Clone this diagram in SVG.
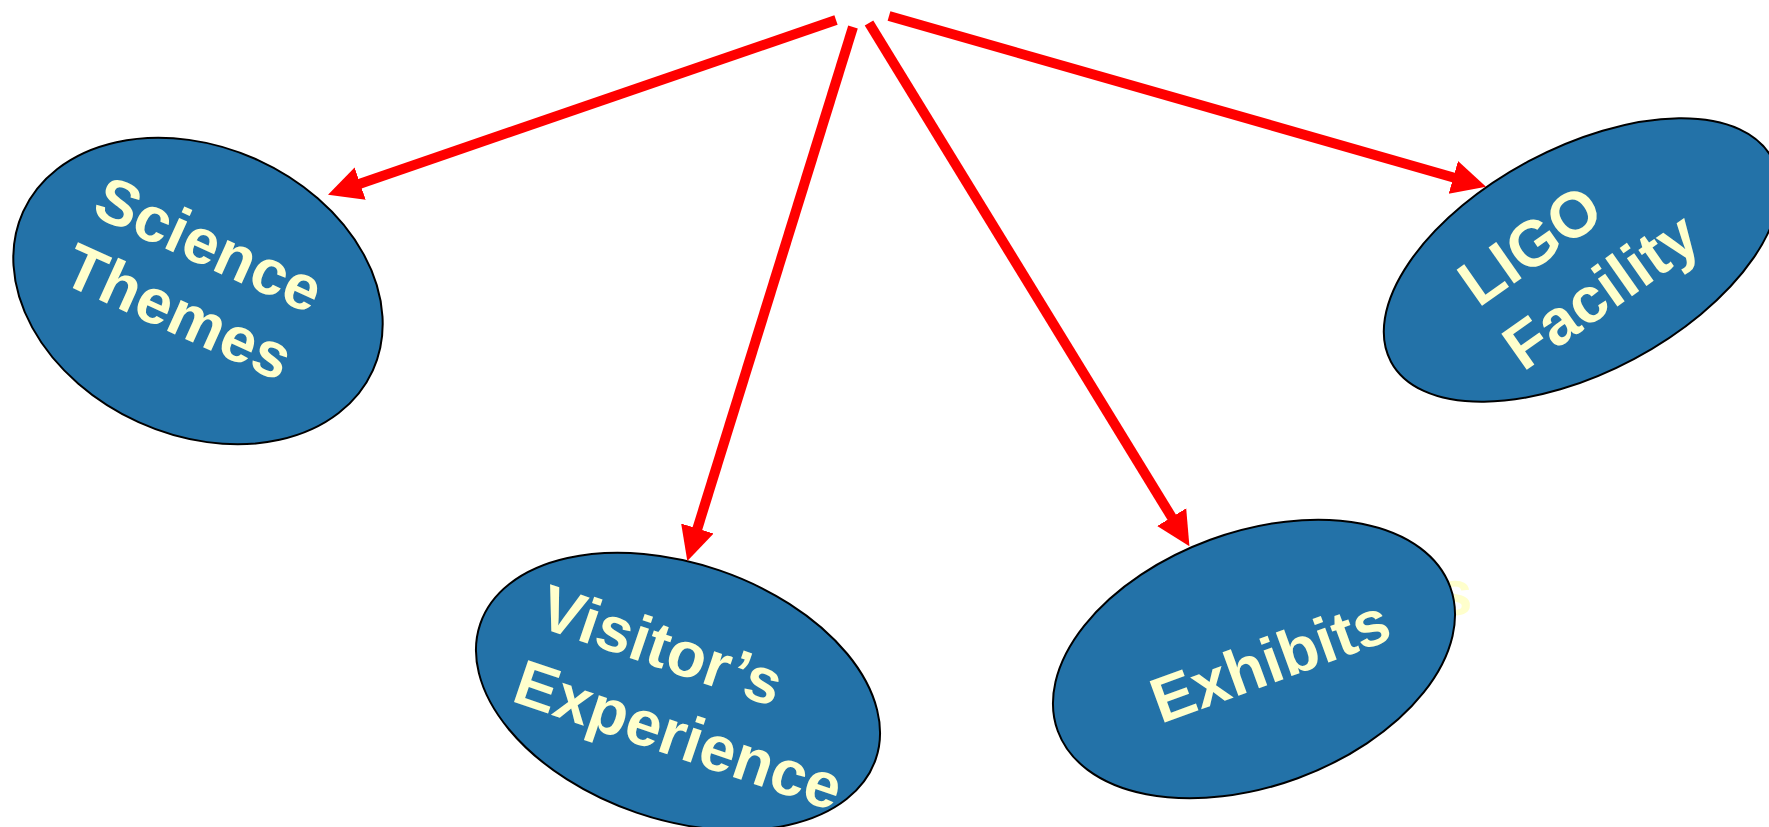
<svg xmlns="http://www.w3.org/2000/svg" width="1769" height="827" viewBox="0 0 1769 827">
<defs>
<style>
.node{fill:#2372A8;stroke:#000;stroke-width:2}
.lbl{font-family:"Liberation Sans",Arial,sans-serif;font-weight:bold;font-size:640px;fill:#FFFFCC;text-rendering:geometricPrecision}
.conn{stroke:#FF0000;stroke-width:10;fill:none;stroke-linecap:butt}
</style>
<marker id="ah" markerUnits="userSpaceOnUse" markerWidth="36" markerHeight="36" refX="1" refY="18" orient="auto" viewBox="0 0 36 36">
<path d="M0,1 L34,18 L0,35 z" fill="#FF0000"/>
</marker>
</defs>
<rect width="1769" height="827" fill="#FFFFFF"/>

<g id="node-science" transform="translate(198,291) rotate(24.4)">
<ellipse class="node" cx="0" cy="0" rx="192" ry="144"/>
<g transform="scale(0.1)">
<text class="lbl" x="-1300" y="-250">Science</text>
<text class="lbl" x="-1300" y="490">Themes</text>
</g>
</g>

<g id="node-visitors" transform="translate(678,691.5) rotate(18.9)">
<ellipse class="node" cx="0" cy="0" rx="209" ry="128"/>
<g transform="scale(0.1)">
<text class="lbl" x="-1560" y="-160">Visitor’s</text>
<text class="lbl" x="-1560" y="630">Experience</text>
</g>
</g>

<g id="node-exhibits">
<text class="lbl" x="14370" y="6150" transform="scale(0.1)">s</text>
<g transform="translate(1254,659) rotate(-20.15)">
<ellipse class="node" cx="0" cy="0" rx="209" ry="127"/>
<text class="lbl" x="-1100" y="290" transform="scale(0.1)">Exhibits</text>
</g>
</g>

<g id="node-ligo">
<ellipse class="node" cx="0" cy="0" rx="216" ry="112" transform="translate(1581.5,260) rotate(-28.1)"/>
<g transform="translate(1478.6,308.3) rotate(-35) scale(0.1)">
<text class="lbl" x="0" y="0">LIGO</text>
<text class="lbl" x="0" y="780">Facility</text>
</g>
</g>

<g id="connectors">
<line class="conn" x1="836" y1="20" x2="359.2" y2="183.9" marker-end="url(#ah)"/>
<line class="conn" x1="853" y1="27" x2="697.1" y2="529.5" marker-end="url(#ah)"/>
<line class="conn" x1="869" y1="23" x2="1172.2" y2="518" marker-end="url(#ah)"/>
<line class="conn" x1="889" y1="16" x2="1454.3" y2="177.7" marker-end="url(#ah)"/>
</g>
</svg>
